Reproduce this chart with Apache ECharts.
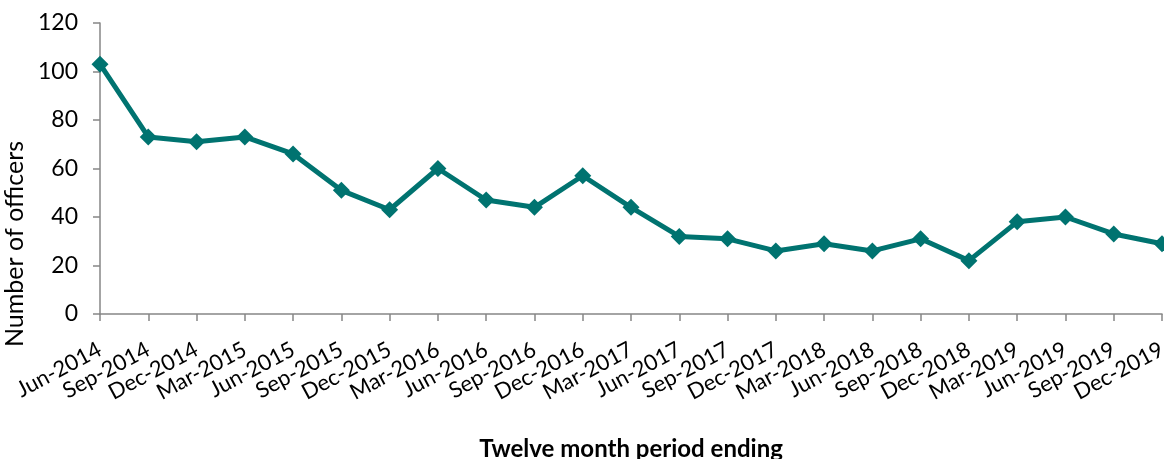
<!DOCTYPE html>
<html>
<head>
<meta charset="utf-8">
<script src="https://cdn.jsdelivr.net/npm/echarts@6/dist/echarts.min.js"></script>
<style>
  html, body { margin: 0; padding: 0; background: #fff; }
  #chart { width: 1164px; height: 459px; }
</style>
</head>
<body>
<div id="chart"></div>
<script>
// 十二个月期末
var periods = [
  "Jun-2014", "Sep-2014", "Dec-2014", "Mar-2015", "Jun-2015", "Sep-2015",
  "Dec-2015", "Mar-2016", "Jun-2016", "Sep-2016", "Dec-2016", "Mar-2017",
  "Jun-2017", "Sep-2017", "Dec-2017", "Mar-2018", "Jun-2018", "Sep-2018",
  "Dec-2018", "Mar-2019", "Jun-2019", "Sep-2019", "Dec-2019"
];
var officers = [
  103, 73, 71, 73, 66, 51, 43, 60, 47, 44, 57, 44,
  32, 31, 26, 29, 26, 31, 22, 38, 40, 33, 29
];

var myChart = echarts.init(document.getElementById("chart"));
var axisColor = "#868686";
var fontName = "Lato";

myChart.setOption({
  animation: false,
  grid: {
    left: 100,
    right: 2,
    top: 23,
    bottom: 145,
    containLabel: false,
    outerBoundsMode: "none",
  },
  xAxis: {
    type: "category",
    data: periods,
    boundaryGap: false,
    axisLine: { lineStyle: { color: axisColor, width: 1.5 } },
    axisTick: { show: true, length: 7, lineStyle: { color: axisColor, width: 1.5 } },
    axisLabel: {
      interval: 0,
      rotate: 28,
      color: "#000",
      fontSize: 22,
      fontFamily: fontName,
      margin: 34,
    },
    name: "Twelve month period ending",
    nameLocation: "middle",
    nameGap: 123,
    nameTextStyle: {
      color: "#000",
      fontSize: 24,
      fontWeight: "bold",
      fontFamily: fontName,
    },
  },
  yAxis: {
    type: "value",
    min: 0,
    max: 120,
    interval: 20,
    splitLine: { show: false },
    axisLine: { show: true, lineStyle: { color: axisColor, width: 1.5 } },
    axisTick: { show: true, length: 7, lineStyle: { color: axisColor, width: 1.5 } },
    axisLabel: {
      color: "#000",
      fontSize: 23,
      fontFamily: fontName,
      margin: 22,
    },
    name: "Number of officers",
    nameLocation: "middle",
    nameGap: 66,
    nameTextStyle: {
      color: "#000",
      fontSize: 25,
      fontFamily: fontName,
      padding: [0, 151, 0, 0],
    },
  },
  series: [
    {
      name: "Officers",
      type: "line",
      data: officers,
      symbol: "diamond",
      symbolSize: 17,
      clip: false,
      lineStyle: { color: "#007370", width: 5 },
      itemStyle: { color: "#007370" },
    },
  ],
});
</script>
</body>
</html>
